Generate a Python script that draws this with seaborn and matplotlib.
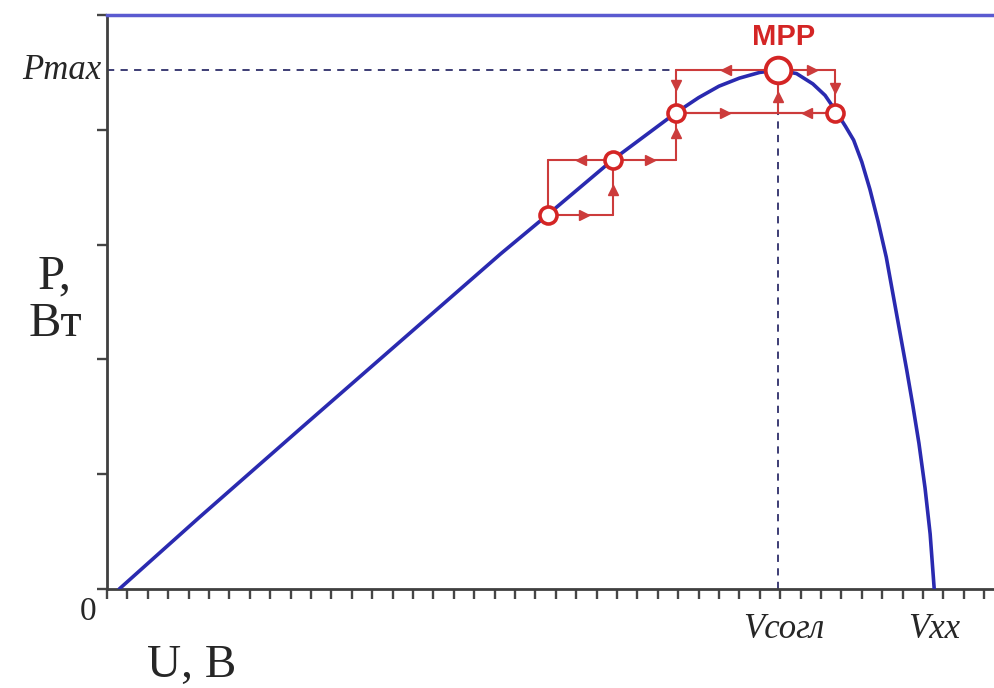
import numpy as np
import pandas as pd
import matplotlib
matplotlib.use("Agg")
import matplotlib.pyplot as plt
import seaborn as sns

# ─────────────────────────────────────────────────────────────
# DATA  (units = x tick steps / y tick steps)
# ─────────────────────────────────────────────────────────────
u_vals = [0.6, 4.5, 9.5, 14.4, 19.3, 21.6, 24.8, 27.9, 29.0, 30.0, 31.0, 32.0,
          32.9, 33.8, 34.6, 35.2, 35.7, 36.2, 36.6, 37.0, 37.4, 37.8, 38.2,
          38.7, 39.2, 39.5, 39.8, 40.1, 40.35, 40.55]
p_vals = [0.0, 0.62, 1.40, 2.16, 2.92, 3.26, 3.74, 4.15, 4.28, 4.38, 4.45, 4.50,
          4.52, 4.49, 4.40, 4.30, 4.17, 4.03, 3.91, 3.72, 3.48, 3.20, 2.89,
          2.40, 1.91, 1.60, 1.27, 0.88, 0.48, 0.0]

# P&O tracking points (index 3 is the MPP)
track_u = [21.6, 24.8, 27.9, 32.9, 35.7]
track_p = [3.26, 3.74, 4.15, 4.52, 4.15]
mpp_idx = 3

# tracking steps: (x index, y index) -> (x index, y index), arrow position along the step
steps = [((0, 0), (1, 0), 0.55), ((1, 0), (1, 1), 0.45), ((0, 0), (0, 1), None),
         ((1, 1), (0, 1), 0.49), ((1, 1), (2, 1), 0.58), ((2, 1), (2, 2), 0.56),
         ((2, 3), (2, 2), 0.36), ((3, 3), (2, 3), 0.51), ((3, 3), (4, 3), 0.59),
         ((4, 3), (4, 4), 0.43), ((2, 2), (4, 2), 0.31), ((4, 2), (2, 2), 0.18),
         ((3, 2), (3, 3), 0.36)]

y_ticks = [0, 1, 2, 3, 4, 5]
x_ticks = list(range(0, 44))

# ─────────────────────────────────────────────────────────────
# PLOT
# ─────────────────────────────────────────────────────────────
sns.set_theme(style="white")
plt.rcParams["font.family"] = ["Liberation Serif", "DejaVu Serif"]

BLUE = "#2a2ab0"
RED = "#d42525"
RED_LINE = "#cc3b3b"
NAVY = "#2e2e6a"

fig = plt.figure(figsize=(9.95, 6.88), dpi=100)
ax = fig.add_axes([107 / 995, 1 - 589 / 688, 888 / 995, 574 / 688])

curve = pd.DataFrame({"U": u_vals, "P": p_vals})
sns.lineplot(data=curve, x="U", y="P", ax=ax, color=BLUE, lw=2.6,
             sort=False, estimator=None, zorder=3)

pmax = track_p[mpp_idx]
v_mpp = track_u[mpp_idx]

# dashed guides
ax.plot([0, track_u[2]], [pmax, pmax], ls=(0, (4, 3.5)), color=NAVY, lw=1.3, zorder=2)
ax.plot([v_mpp, v_mpp], [0, track_p[2]], ls=(0, (4, 3.5)), color=NAVY, lw=1.3, zorder=2)

# tracking steps with arrow heads
for (a, b), (c, d), frac in steps:
    x0, y0 = track_u[a], track_p[b]
    x1, y1 = track_u[c], track_p[d]
    ax.plot([x0, x1], [y0, y1], color=RED_LINE, lw=1.5, zorder=4)
    if frac is None:
        continue
    if x1 > x0:
        m = ">"
    elif x1 < x0:
        m = "<"
    elif y1 > y0:
        m = "^"
    else:
        m = "v"
    ax.plot(x0 + frac * (x1 - x0), y0 + frac * (y1 - y0), marker=m,
            ms=7.5, color=RED_LINE, mec=RED_LINE, zorder=5)

small = [i for i in range(len(track_u)) if i != mpp_idx]
sns.scatterplot(x=[track_u[i] for i in small], y=[track_p[i] for i in small], ax=ax,
                s=150, facecolor="white", edgecolor=RED, linewidth=2.6, zorder=6)
sns.scatterplot(x=[v_mpp], y=[pmax], ax=ax, s=340, facecolor="white",
                edgecolor=RED, linewidth=2.8, zorder=6)

ax.annotate("MPP", xy=(v_mpp, pmax), xytext=(4, 24), textcoords="offset points",
            ha="center", va="center", fontsize=21, fontweight="bold",
            color=RED, family=["Liberation Sans", "DejaVu Sans"])

# axes styling
ax.set_xlim(0, 888 / 20.4)
ax.set_ylim(0, 5)
ax.set_xticks(x_ticks)
ax.set_yticks(y_ticks)
ax.set_xticklabels([])
ax.set_yticklabels([])
ax.set_xlabel("")
ax.set_ylabel("")
ax.tick_params(axis="both", direction="out", length=7, width=1.7, colors="#454545",
               bottom=True, left=True)
for s in ["left", "bottom"]:
    ax.spines[s].set_color("#404040")
    ax.spines[s].set_linewidth(2)
ax.spines["top"].set_color("#5a5ad0")
ax.spines["top"].set_linewidth(2.5)
ax.spines["right"].set_visible(False)

# labels
ax.text(-0.3, pmax, "Pmax", ha="right", va="center", fontsize=25, style="italic")
ax.text(-0.95, -0.2, "0", ha="center", va="center", fontsize=24)
ax.text(v_mpp + 0.3, -0.35, "Vсогл", ha="center", va="center", fontsize=25, style="italic")
ax.text(u_vals[-1], -0.35, "Vхх", ha="center", va="center", fontsize=25, style="italic")

fig.text(55 / 995, 1 - 300 / 688, "P,\nВт", ha="center", va="center",
         fontsize=35, linespacing=1.1)
fig.text(192 / 995, 1.5 / 688, "U, В", ha="center", va="bottom", fontsize=34)

fig.savefig("out.png", dpi=100)
